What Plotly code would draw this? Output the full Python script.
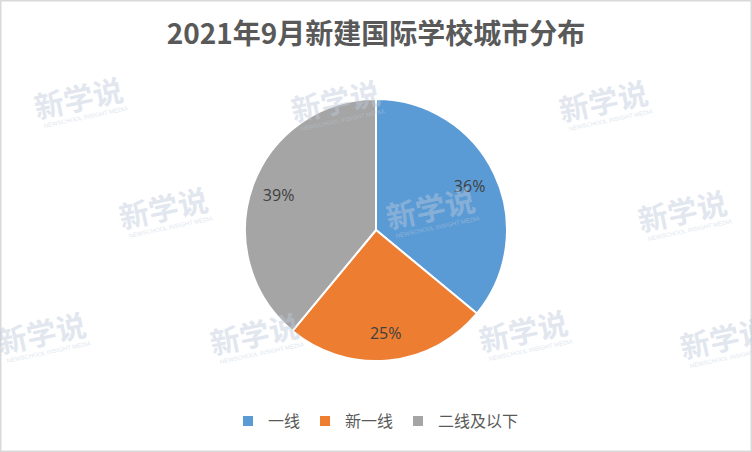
import plotly.graph_objects as go

# Data
categories = ["一线", "新一线", "二线及以下"]
shares = [36, 25, 39]
title_text = "2021年9月新建国际学校城市分布"

colors = ["#5B9BD5", "#ED7D31", "#A5A5A5"]

W, H = 752, 452
cx, cy, r = 376, 230, 131
dom = dict(x=[(cx - r) / W, (cx + r) / W], y=[(H - cy - r) / H, (H - cy + r) / H])

fig = go.Figure()
fig.add_trace(go.Pie(
    labels=categories,
    values=shares,
    sort=False,
    direction="clockwise",
    rotation=0,
    marker=dict(colors=colors, line=dict(color="white", width=2)),
    textinfo="none",
    hoverinfo="label+percent",
    domain=dom,
))
# transparent ring used only to place the percentage labels further out
fig.add_trace(go.Pie(
    labels=categories,
    values=shares,
    sort=False,
    direction="clockwise",
    rotation=0,
    hole=0.58,
    marker=dict(colors=["rgba(0,0,0,0)"] * 3, line=dict(width=0)),
    textinfo="percent",
    texttemplate="%{percent:.0%}",
    textposition="inside",
    insidetextorientation="horizontal",
    textfont=dict(family="Open Sans, Noto Sans CJK SC", size=16, color="#404040"),
    hoverinfo="skip",
    showlegend=False,
    domain=dom,
))

# Watermarks
wm_pos = [(78, 97), (335, 100), (603, 100), (163, 207), (430, 207), (682, 210),
          (41, 332), (254, 333), (523, 330), (724, 337)]
annotations = []
for (x, y) in wm_pos:
    annotations.append(dict(
        x=x / W, y=1 - y / H, xref="paper", yref="paper",
        text="<b>新学说</b>", showarrow=False, textangle=-12,
        font=dict(family="Noto Sans CJK SC", size=30, color="rgba(190,202,220,0.45)"),
        xanchor="center", yanchor="middle",
    ))
    annotations.append(dict(
        x=(x + 8) / W, y=1 - (y + 20) / H, xref="paper", yref="paper",
        text="NEWSCHOOL INSIGHT MEDIA", showarrow=False, textangle=-12,
        font=dict(family="Liberation Sans", size=6, color="rgba(190,202,220,0.5)"),
        xanchor="center", yanchor="middle",
    ))

fig.update_layout(
    width=W, height=H,
    margin=dict(l=0, r=0, t=0, b=0),
    paper_bgcolor="white",
    plot_bgcolor="white",
    title=dict(text=title_text, x=0.5, xanchor="center", y=1 - 34 / H, yanchor="middle",
               font=dict(family="Noto Sans CJK SC", size=28, color="#595959", weight="bold")),
    legend=dict(orientation="h", x=0.5, xanchor="center", y=1 - 421 / H, yanchor="middle",
                font=dict(family="Noto Sans CJK SC", size=16, color="#595959"),
                itemwidth=30, traceorder="normal"),
    annotations=annotations,
    shapes=[dict(type="rect", xref="paper", yref="paper", x0=0, y0=0, x1=1, y1=1,
                 line=dict(color="#D9D9D9", width=3))],
)

fig.write_html("out.html", config={"displayModeBar": False},
               post_script="document.body.style.margin='0';document.body.style.overflow='hidden';")
